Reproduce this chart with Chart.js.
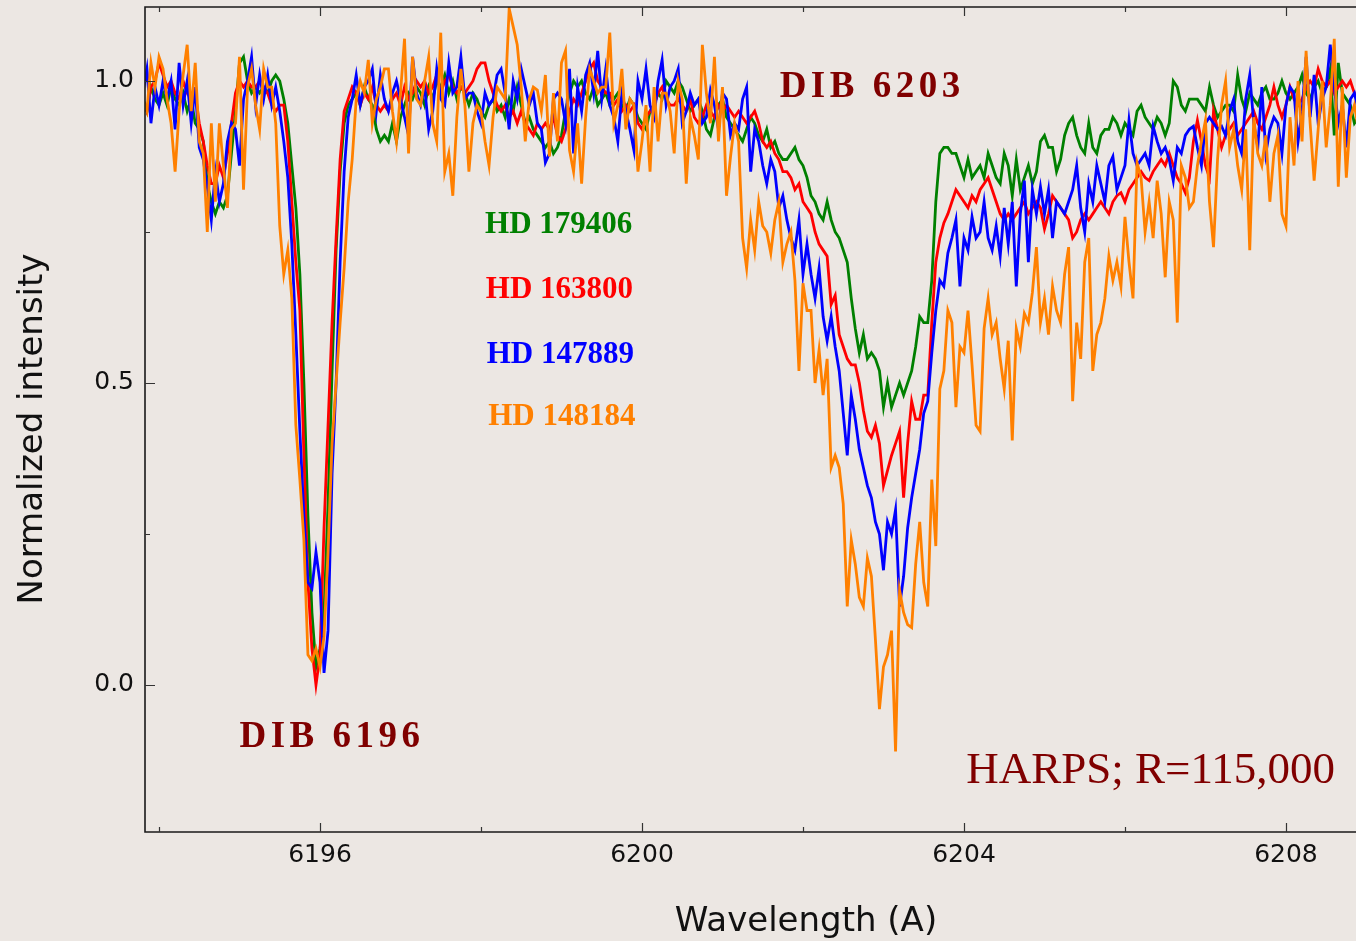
<!DOCTYPE html>
<html>
<head>
<meta charset="utf-8">
<script src="https://cdn.jsdelivr.net/npm/chart.js@4"></script>
<style>
  html, body { margin: 0; padding: 0; background: #ece7e3; }
  canvas { display: block; }
</style>
</head>
<body>
<canvas id="chart" width="1356" height="941"></canvas>
<script>
// sampling grid of the spectra (Angstrom)
const wavelengthStart = 6193.8;
const wavelengthStep = 0.05;

// normalized intensity, one row per Angstrom (6193.8 ... 6208.9)
const hd179406 = [
  0.97,0.95,0.99,0.97,0.96,0.98,0.96,0.99,0.97,0.96,0.98,0.95,0.97,0.93,0.92,0.90,0.83,0.80,0.78,0.80,
  0.79,0.81,0.88,0.95,1.03,1.04,1.00,0.98,0.99,0.98,0.99,0.98,1.00,1.01,1.00,0.97,0.93,0.86,0.79,0.68,
  0.50,0.28,0.12,0.03,0.06,0.12,0.30,0.52,0.72,0.85,0.93,0.96,0.97,0.98,0.96,0.99,0.97,0.96,0.92,0.90,
  0.91,0.90,0.93,0.90,0.94,0.96,0.98,0.97,0.99,0.98,0.96,0.99,0.97,1.00,0.99,1.01,0.98,1.00,0.97,0.99,
  0.98,0.96,0.98,0.97,0.95,0.94,0.96,0.97,0.95,0.96,0.94,0.97,0.95,0.99,0.96,0.93,0.94,0.92,0.91,0.90,
  0.89,0.90,0.88,0.89,0.91,0.95,0.98,1.00,0.99,1.00,0.98,0.97,0.99,0.96,0.97,0.98,0.96,0.97,0.98,0.96,
  0.95,0.97,0.96,0.94,0.93,0.92,0.95,0.96,0.98,0.97,1.00,0.99,0.98,1.00,0.99,0.97,0.95,0.96,0.97,0.95,
  0.92,0.91,0.94,0.96,0.97,0.94,0.93,0.92,0.91,0.90,0.92,0.94,0.93,0.91,0.90,0.92,0.89,0.90,0.88,0.87,
  0.87,0.88,0.89,0.87,0.86,0.84,0.81,0.80,0.78,0.77,0.80,0.77,0.75,0.74,0.72,0.70,0.64,0.59,0.55,0.58,
  0.54,0.55,0.54,0.52,0.46,0.50,0.46,0.48,0.50,0.48,0.50,0.52,0.56,0.61,0.60,0.60,0.67,0.80,0.88,0.89,
  0.89,0.88,0.88,0.86,0.84,0.87,0.84,0.85,0.86,0.84,0.88,0.86,0.84,0.83,0.88,0.86,0.81,0.87,0.82,0.84,
  0.86,0.83,0.85,0.90,0.91,0.89,0.89,0.85,0.87,0.91,0.93,0.94,0.91,0.89,0.88,0.93,0.89,0.88,0.91,0.92,
  0.92,0.94,0.93,0.91,0.93,0.92,0.91,0.95,0.96,0.94,0.93,0.92,0.94,0.93,0.91,0.93,1.00,0.99,0.96,0.95,
  0.97,0.97,0.97,0.96,0.95,0.99,0.96,0.94,0.95,0.96,0.96,0.95,1.01,0.97,0.95,0.98,0.97,0.96,0.98,0.99,
  0.97,0.97,0.98,1.00,0.98,0.97,0.98,0.99,1.01,0.98,0.97,0.99,1.00,0.98,0.99,1.02,0.91,1.03,0.98,0.97,
  0.96,0.93,0.94
];
const hd163800 = [
  0.97,0.95,0.99,1.00,1.03,1.01,0.99,1.00,0.98,0.97,1.00,0.98,0.97,0.98,0.93,0.90,0.86,0.83,0.83,0.86,
  0.84,0.88,0.93,0.98,1.00,0.99,1.00,0.99,0.99,1.00,0.99,0.98,0.96,0.95,0.96,0.96,0.90,0.80,0.70,0.62,
  0.38,0.17,0.06,0.00,0.05,0.26,0.43,0.60,0.74,0.87,0.95,0.97,0.99,0.98,0.96,0.98,0.97,0.99,0.96,0.95,
  0.96,0.95,0.97,0.98,0.96,0.99,0.97,0.98,1.00,0.99,1.00,0.98,0.99,1.01,0.98,1.00,1.01,0.99,0.98,0.99,
  0.98,0.99,1.00,1.02,1.03,1.03,1.00,0.98,0.96,0.95,0.96,0.94,0.95,0.93,0.95,0.93,0.92,0.91,0.93,0.92,
  0.93,0.92,0.94,0.91,0.90,0.92,0.95,0.97,0.96,0.98,1.00,1.02,1.03,1.00,0.99,0.98,0.98,0.96,0.97,0.95,
  0.96,0.95,0.96,0.93,0.92,0.94,0.95,0.96,0.98,0.99,0.97,0.96,0.96,0.97,0.96,0.95,0.97,0.94,0.93,0.94,
  0.96,0.95,0.94,0.96,0.95,0.96,0.95,0.94,0.95,0.94,0.93,0.94,0.95,0.93,0.90,0.89,0.90,0.88,0.87,0.85,
  0.85,0.84,0.82,0.83,0.80,0.79,0.78,0.75,0.73,0.72,0.71,0.63,0.645,0.58,0.56,0.54,0.53,0.53,0.50,0.455,
  0.42,0.41,0.43,0.40,0.33,0.355,0.38,0.40,0.42,0.31,0.40,0.47,0.44,0.44,0.48,0.48,0.60,0.70,0.74,0.765,
  0.78,0.80,0.82,0.81,0.80,0.79,0.81,0.80,0.82,0.83,0.84,0.82,0.80,0.78,0.77,0.78,0.77,0.78,0.79,0.80,
  0.78,0.79,0.80,0.79,0.755,0.78,0.81,0.80,0.79,0.78,0.77,0.74,0.75,0.77,0.78,0.77,0.78,0.79,0.80,0.79,
  0.78,0.80,0.81,0.815,0.80,0.82,0.83,0.84,0.85,0.84,0.835,0.85,0.86,0.87,0.86,0.88,0.86,0.84,0.83,0.815,
  0.84,0.90,0.935,0.90,0.86,0.84,0.95,0.92,0.89,0.91,0.92,0.93,0.91,0.92,0.93,0.94,0.95,0.93,0.92,0.94,
  0.96,0.99,0.96,0.94,0.96,0.99,0.97,0.96,0.97,0.99,1.00,0.99,1.02,1.00,0.99,1.00,0.98,0.99,1.00,0.99,
  1.00,0.98,0.97
];
const hd147889 = [
  0.98,1.02,0.93,0.99,0.96,1.00,0.97,1.00,0.92,1.03,0.96,1.00,0.93,0.99,0.89,0.87,0.825,0.77,0.85,0.80,
  0.83,0.90,0.93,0.92,0.86,0.97,1.00,1.04,0.96,1.01,0.97,1.01,0.96,0.99,0.95,0.90,0.84,0.73,0.58,0.42,
  0.28,0.17,0.16,0.22,0.17,0.02,0.09,0.35,0.50,0.70,0.85,0.94,0.97,1.01,0.96,0.99,1.00,1.02,0.95,1.01,
  0.97,0.95,0.98,1.00,0.97,0.94,0.91,1.04,0.98,0.96,0.99,0.92,0.95,1.02,0.97,0.96,1.03,0.98,0.99,1.04,
  0.97,0.98,0.98,0.95,0.93,0.98,0.96,0.97,1.01,1.02,0.98,0.92,1.00,0.97,1.02,0.99,0.96,0.98,0.93,0.92,
  0.865,0.88,0.97,0.98,0.97,0.93,1.02,0.88,0.99,0.95,1.01,1.03,0.98,1.05,0.97,1.02,0.96,0.94,0.90,0.98,
  0.95,0.92,0.885,1.00,0.97,1.02,0.96,0.94,1.00,1.035,0.96,0.99,1.00,1.02,0.93,0.95,0.98,0.96,0.97,0.93,
  0.94,0.985,0.96,0.92,0.98,0.97,0.91,0.93,0.92,0.97,0.99,0.85,0.92,0.90,0.86,0.83,0.87,0.85,0.79,0.81,
  0.77,0.74,0.72,0.77,0.68,0.73,0.68,0.64,0.69,0.61,0.57,0.61,0.56,0.52,0.45,0.38,0.48,0.44,0.39,0.36,
  0.33,0.31,0.27,0.25,0.19,0.27,0.25,0.29,0.13,0.18,0.26,0.31,0.35,0.39,0.45,0.47,0.55,0.62,0.67,0.66,
  0.715,0.74,0.77,0.66,0.74,0.72,0.775,0.74,0.75,0.80,0.74,0.72,0.76,0.71,0.79,0.73,0.80,0.66,0.78,0.835,
  0.70,0.82,0.78,0.825,0.78,0.82,0.74,0.80,0.79,0.78,0.80,0.82,0.86,0.79,0.75,0.83,0.80,0.86,0.83,0.80,
  0.86,0.875,0.82,0.84,0.86,0.935,0.88,0.86,0.87,0.88,0.86,0.925,0.90,0.88,0.89,0.87,0.835,0.89,0.88,0.91,
  0.92,0.925,0.89,0.86,0.93,0.94,0.93,0.92,0.925,0.91,0.95,0.97,0.90,0.88,0.97,1.01,0.93,0.89,0.99,0.88,
  0.92,0.94,0.93,0.88,0.96,0.99,0.98,0.90,0.95,1.04,0.94,1.01,0.93,0.97,0.99,1.06,0.99,0.93,0.96,0.89,
  0.97,0.98,0.95
];
const hd148184 = [
  0.97,0.95,1.03,0.99,1.04,1.02,0.97,0.93,0.85,0.95,1.01,1.06,0.95,1.03,0.90,0.88,0.75,0.93,0.80,0.93,
  0.86,0.79,0.92,0.93,1.04,0.82,0.99,1.02,0.96,0.92,1.02,0.99,0.99,0.93,0.76,0.68,0.72,0.64,0.43,0.34,
  0.24,0.05,0.04,0.06,0.03,0.08,0.22,0.40,0.50,0.60,0.69,0.80,0.87,0.97,1.00,0.98,1.035,0.93,0.97,0.99,
  1.02,1.02,0.95,0.90,0.98,1.07,0.88,1.04,0.97,0.96,1.00,1.04,0.93,0.90,1.08,0.85,0.88,0.81,0.94,1.02,
  0.96,0.85,0.93,0.96,0.95,0.90,0.86,0.94,0.99,0.98,0.97,1.12,1.09,1.06,0.99,0.90,0.97,0.99,0.985,0.95,
  1.01,0.875,0.98,0.90,1.03,1.05,0.885,0.85,0.93,0.83,0.94,1.02,1.00,0.98,0.99,0.99,1.08,0.93,0.96,1.02,
  0.92,0.97,0.96,0.85,0.90,0.96,0.85,0.99,0.90,0.98,0.98,0.95,0.88,1.00,0.97,0.83,0.94,0.91,0.87,1.06,
  0.98,0.93,1.04,0.90,0.99,0.81,0.875,0.93,0.90,0.74,0.69,0.77,0.72,0.80,0.76,0.75,0.715,0.77,0.80,0.70,
  0.73,0.75,0.67,0.52,0.665,0.62,0.62,0.50,0.555,0.48,0.54,0.36,0.38,0.36,0.30,0.13,0.24,0.20,0.145,0.13,
  0.21,0.18,0.075,-0.04,0.03,0.05,0.09,-0.11,0.157,0.12,0.10,0.095,0.20,0.27,0.17,0.13,0.34,0.23,0.49,0.52,
  0.62,0.60,0.46,0.56,0.55,0.62,0.53,0.43,0.42,0.59,0.64,0.58,0.60,0.54,0.49,0.57,0.405,0.59,0.56,0.615,
  0.60,0.65,0.725,0.60,0.64,0.58,0.66,0.62,0.60,0.68,0.725,0.47,0.60,0.54,0.70,0.74,0.52,0.58,0.60,0.64,
  0.71,0.67,0.70,0.66,0.775,0.70,0.64,0.865,0.84,0.75,0.80,0.74,0.835,0.78,0.675,0.80,0.77,0.60,0.86,0.84,
  0.79,0.80,0.86,0.90,0.935,0.80,0.725,0.87,0.96,1.00,0.89,0.92,0.86,0.82,0.92,0.72,0.94,0.88,0.86,0.91,
  0.80,0.88,0.91,0.78,0.76,0.94,0.86,1.00,0.90,1.05,0.93,0.835,0.92,1.00,0.89,0.96,1.07,0.825,0.99,0.84,
  0.94,0.96,0.92
];

const starNames = ['HD 179406', 'HD 163800', 'HD 147889', 'HD 148184'];
const starColors = ['#008000', '#ff0000', '#0000ff', '#ff8000'];
const xTickValues = [6194, 6196, 6198, 6200, 6202, 6204, 6206, 6208];
const xTickLabelled = [6196, 6200, 6204, 6208];
const yTickValues = [0, 0.25, 0.5, 0.75, 1.0];
const yTickLabelled = [0, 0.5, 1.0];

const wavelengths = hd179406.map((_, i) => +(wavelengthStart + i * wavelengthStep).toFixed(2));
const spectra = [hd179406, hd163800, hd147889, hd148184];

// the orange spectrum sits on top, green at the bottom
const datasets = spectra.map((values, k) => ({
  label: starNames[k],
  data: values.map((v, i) => ({ x: wavelengths[i], y: v })),
  borderColor: starColors[k],
  borderWidth: 2.8,
  pointRadius: 0,
  tension: 0,
  order: 3 - k
}));

// frame with inward ticks, axis titles and the text notes
const decorations = {
  id: 'decorations',
  afterDatasetsDraw(chart) {
    const { ctx, chartArea: a, scales: { x, y } } = chart;
    ctx.save();
    ctx.strokeStyle = '#1a1a1a';
    ctx.lineWidth = 1.6;
    ctx.beginPath();
    ctx.moveTo(a.right, a.top); ctx.lineTo(a.left, a.top);
    ctx.lineTo(a.left, a.bottom); ctx.lineTo(a.right, a.bottom);
    ctx.stroke();

    ctx.lineWidth = 1.2;
    ctx.strokeStyle = '#333';
    ctx.beginPath();
    x.ticks.forEach(t => {
      const px = Math.round(x.getPixelForValue(t.value)) + 0.5;
      const len = xTickLabelled.includes(t.value) ? 9 : 5;
      ctx.moveTo(px, a.bottom); ctx.lineTo(px, a.bottom - len);
      ctx.moveTo(px, a.top); ctx.lineTo(px, a.top + len);
    });
    y.ticks.forEach(t => {
      const py = Math.round(y.getPixelForValue(t.value)) + 0.5;
      const len = yTickLabelled.includes(t.value) ? 10 : 5;
      ctx.moveTo(a.left, py); ctx.lineTo(a.left + len, py);
    });
    ctx.stroke();

    // axis titles
    ctx.fillStyle = '#111';
    ctx.font = '34px "DejaVu Sans"';
    ctx.textAlign = 'center';
    ctx.textBaseline = 'alphabetic';
    ctx.fillText('Wavelength (A)', 806, 931);
    ctx.save();
    ctx.translate(42, 429);
    ctx.rotate(-Math.PI / 2);
    ctx.fillText('Normalized intensity', 0, 0);
    ctx.restore();

    // notes placed in data coordinates
    const note = (text, wl, val, font, color, align, spacing) => {
      ctx.font = font;
      ctx.fillStyle = color;
      ctx.textAlign = align;
      ctx.letterSpacing = spacing || '0px';
      ctx.fillText(text, x.getPixelForValue(wl), y.getPixelForValue(val));
    };
    const dark = '#800000';
    note('DIB 6203', 6201.71, 0.973, 'bold 37px "Liberation Serif"', dark, 'left', '4.5px');
    note('DIB 6196', 6195.0, -0.103, 'bold 37px "Liberation Serif"', dark, 'left', '4.5px');
    note(starNames[0], 6198.05, 0.748, 'bold 31px "Liberation Serif"', starColors[0], 'left');
    note(starNames[1], 6198.06, 0.641, 'bold 31px "Liberation Serif"', starColors[1], 'left');
    note(starNames[2], 6198.07, 0.533, 'bold 31px "Liberation Serif"', starColors[2], 'left');
    note(starNames[3], 6198.09, 0.430, 'bold 31px "Liberation Serif"', starColors[3], 'left');
    note('HARPS; R=115,000', 6208.61, -0.162, '45px "Liberation Serif"', dark, 'right');
    ctx.restore();
  }
};

new Chart(document.getElementById('chart'), {
  type: 'line',
  data: { datasets },
  options: {
    responsive: false,
    animation: false,
    devicePixelRatio: 1,
    layout: { padding: { top: 7, right: 0, left: 0, bottom: 0 } },
    plugins: { legend: { display: false }, tooltip: { enabled: false } },
    scales: {
      x: {
        type: 'linear',
        min: 6193.826,
        max: 6208.87,
        grid: { display: false, drawTicks: false },
        border: { display: false },
        afterBuildTicks: s => { s.ticks = xTickValues.map(v => ({ value: v })); },
        afterFit: s => { s.height = 109; s.paddingLeft = 0; s.paddingRight = 0; },
        ticks: {
          autoSkip: false,
          maxRotation: 0,
          padding: 8,
          color: '#111',
          font: { family: 'DejaVu Sans', size: 25 },
          callback: v => xTickLabelled.includes(v) ? String(v) : ''
        }
      },
      y: {
        min: -0.2434,
        max: 1.1225,
        grid: { display: false, drawTicks: false },
        border: { display: false },
        afterBuildTicks: s => { s.ticks = yTickValues.map(v => ({ value: v })); },
        afterFit: s => { s.width = 145; s.paddingTop = 0; s.paddingBottom = 0; },
        ticks: {
          autoSkip: false,
          padding: 11,
          color: '#111',
          font: { family: 'DejaVu Sans', size: 25 },
          callback: v => yTickLabelled.includes(v) ? v.toFixed(1) : ''
        }
      }
    }
  },
  plugins: [decorations]
});
</script>
</body>
</html>
